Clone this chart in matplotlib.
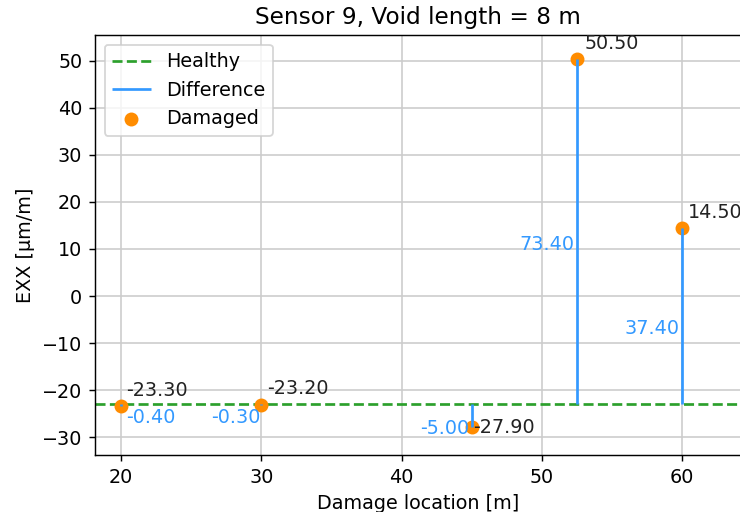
import matplotlib

matplotlib.use("Agg")
import matplotlib.pyplot as plt

# data
locations = [20, 30, 45, 52.5, 60]
damaged = [-23.3, -23.2, -27.9, 50.5, 14.5]
healthy = -22.9
sensor = 9
void_length = 8

# label placement (offset points) for the two text sets
dmg_offsets = [(3, 3, "left", "bottom"), (3, 4, "left", "bottom"),
               (1, 0, "left", "center"), (4, 3, "left", "bottom"),
               (3, 3, "left", "bottom")]
diff_offsets = [(3, -2, "left"), (-0.5, -2, "right"), (-1.5, -2, "right"),
                (-1.5, -2, "right"), (-1.5, -2, "right")]

GREEN = "#2ca02c"
BLUE = "#3399ff"
ORANGE = "#ff8c00"

plt.rcParams["font.size"] = 10.6

fig = plt.figure(figsize=(740 / 130, 512 / 130), dpi=130)
ax = fig.add_axes([95 / 740, 57 / 512, 646 / 740, 420 / 512])

ax.axhline(healthy, color=GREEN, ls="--", lw=1.5, label="Healthy", zorder=2)
ax.scatter(locations, damaged, s=45, color=ORANGE, label="Damaged", zorder=3)
ax.vlines(locations, healthy, damaged, color=BLUE, lw=1.5,
          label="Difference", zorder=4)

for x, y, (dx, dy, ha, va) in zip(locations, damaged, dmg_offsets):
    ax.annotate(f"{y:.2f}", (x, y), xytext=(dx, dy), textcoords="offset points",
                ha=ha, va=va, color="#222222")

for x, y, (dx, dy, ha) in zip(locations, damaged, diff_offsets):
    diff = y - healthy
    mid = (y + healthy) / 2
    ax.annotate(f"{diff:.2f}", (x, mid), xytext=(dx, dy),
                textcoords="offset points", ha=ha, va="top", color=BLUE)

ax.set_xlim(18.14, 64.2)
ax.set_ylim(-33.8, 55.5)
ax.set_yticks(range(-30, 51, 10))
ax.set_xticks(range(20, 61, 10))
ax.grid(True, color="#cccccc", lw=0.9)
ax.spines["right"].set_visible(False)
ax.set_xlabel("Damage location [m]")
ax.set_ylabel("EXX [µm/m]")
ax.set_title(f"Sensor {sensor}, Void length = {void_length} m", fontsize=12.8)

handles, labels = ax.get_legend_handles_labels()
order = [labels.index(n) for n in ("Healthy", "Difference", "Damaged")]
ax.legend([handles[i] for i in order], [labels[i] for i in order],
          loc="upper left", scatterpoints=1)

fig.savefig("out.png", dpi=130)
